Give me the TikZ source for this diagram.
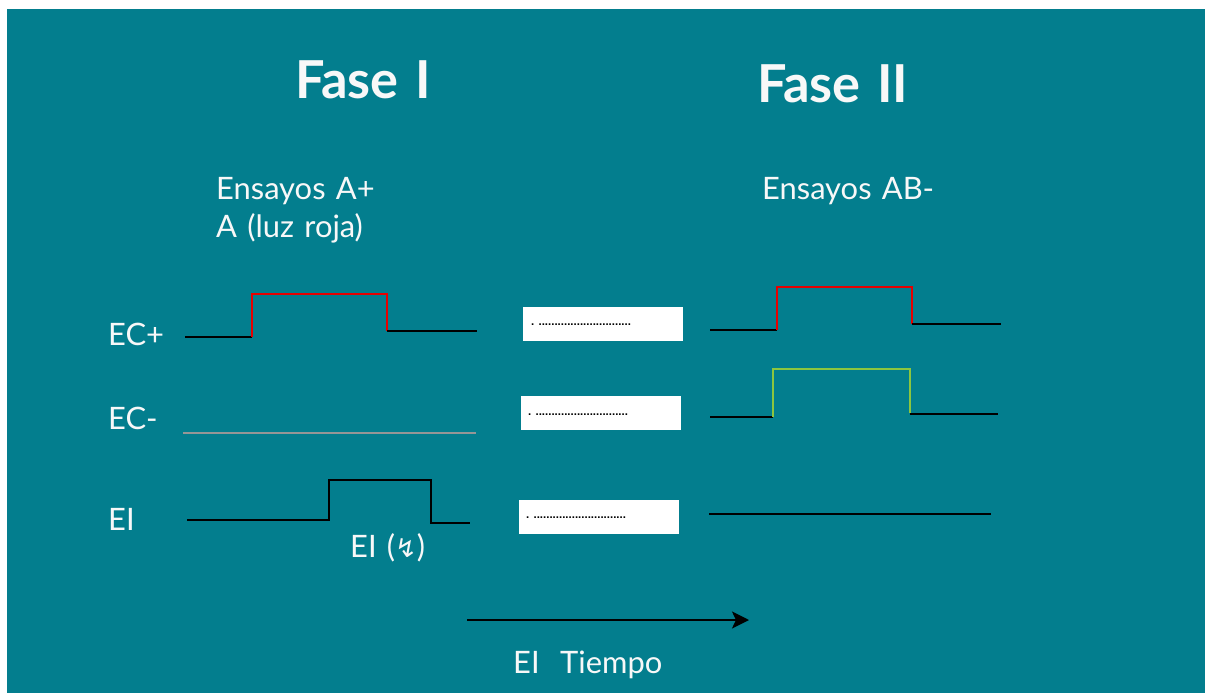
\documentclass[tikz,border=0pt]{standalone}
\usepackage{fontspec}
\setmainfont[WordSpace=1.3]{Lato}
\newfontfamily\dotfont{Liberation Sans}
\newfontfamily\symfont{DejaVu Sans}
\usetikzlibrary{arrows.meta}
\definecolor{bgteal}{RGB}{3,126,142}
\definecolor{txtwhite}{RGB}{248,248,248}
\definecolor{sigred}{RGB}{230,0,0}
\definecolor{siggreen}{RGB}{140,198,63}
\definecolor{siggray}{RGB}{150,150,150}
\tikzset{
  lbl/.style={anchor=base west, inner sep=0pt, text=txtwhite, font=\fontsize{31}{36}\selectfont},
  title/.style={anchor=base west, inner sep=0pt, text=txtwhite, font=\fontsize{52.5}{60}\selectfont\bfseries},
  sig/.style={line width=2bp, black},
  dotbox/.style={fill=white, minimum width=160bp, minimum height=34bp, inner sep=0pt, anchor=north west},
  dotstxt/.style={anchor=west, inner sep=0pt, font=\dotfont\bfseries\fontsize{11.5}{12}\selectfont}
}
\begin{document}
\begin{tikzpicture}[x=1bp,y=-1bp]
\useasboundingbox (0,0) rectangle (1205,693);
\fill[white] (0,0) rectangle (1205,693);
\fill[bgteal] (7,9) rectangle (1205,693);

% titles
\node[title] (f1) at (295,99) {Fase I};
\node[title] (f2) at (757,103) {Fase II};
\node[lbl] (e1) at (216,200) {Ensayos A+};
\node[lbl] (e1b) at (216,238) {A (luz roja)};
\node[lbl] (e2) at (762,200) {Ensayos AB-};

% row labels
\node[lbl] (lecp) at (108,345) {EC+};
\node[lbl] (lecm) at (108,429) {EC-};
\node[lbl] (lei) at (108,530) {EI};
\node[lbl] (lei2) at (350,557) {EI ({\symfont\fontsize{26}{30}\selectfont ↯})};

% Fase I signals
\draw[sig] (185,337) -- (252,337);
\draw[sig, sigred] (252,337) -- (252,294) -- (387,294) -- (387,331);
\draw[sig] (387,331) -- (477,331);
\draw[line width=1.5bp, siggray] (183,433) -- (476,433);
\draw[sig] (187,520) -- (329,520) -- (329,480) -- (431,480) -- (431,523) -- (470,523);

% dotted boxes
\node[dotbox] (b1) at (523,307) {};
\node[dotstxt] (d1) at (531,325) {. .............................};
\node[dotbox] (b2) at (521,396) {};
\node[dotstxt] (d2) at (528,415) {. .............................};
\node[dotbox] (b3) at (519,500) {};
\node[dotstxt] (d3) at (526,518) {. .............................};

% Fase II signals
\draw[sig] (710,330) -- (777,330);
\draw[sig, sigred] (777,330) -- (777,287) -- (912,287) -- (912,324);
\draw[sig] (912,324) -- (1001,324);
\draw[sig] (710,417) -- (773,417);
\draw[sig, siggreen] (773,417) -- (773,369) -- (910,369) -- (910,413);
\draw[sig] (910,414) -- (998,414);
\draw[sig] (709,514) -- (991,514);

% time arrow
\coordinate (ta) at (467,620);
\coordinate (tb) at (749,620);
\draw[sig, -{Stealth[length=17bp, width=17bp, inset=4bp]}] (ta) -- (tb);
\node[lbl] (tiempo) at (513,673) {EI\ \ Tiempo};
\end{tikzpicture}
\end{document}
